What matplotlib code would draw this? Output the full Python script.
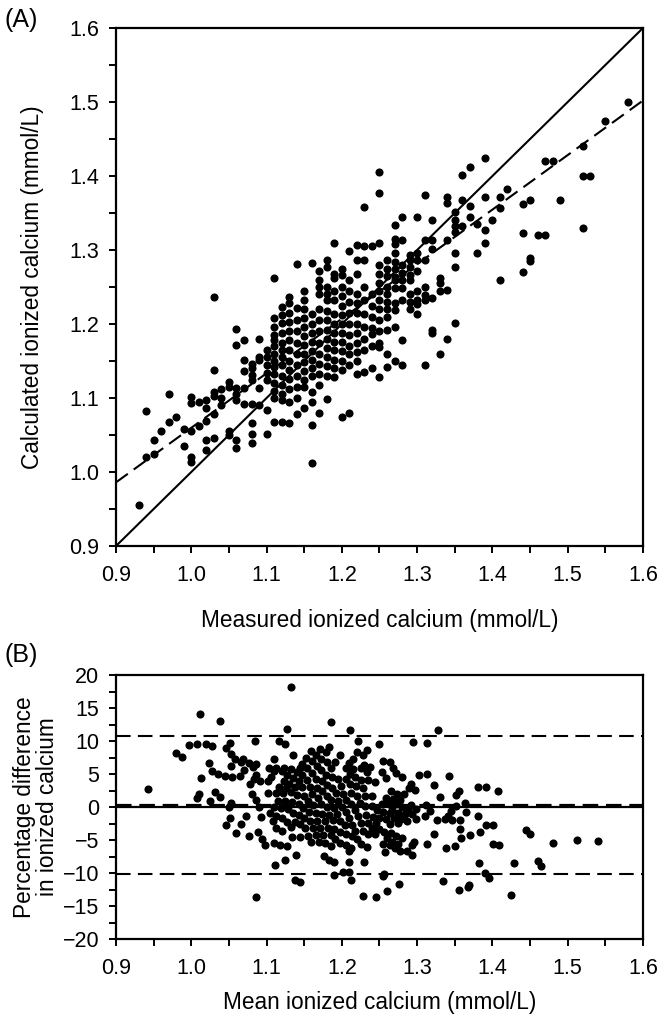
import matplotlib
matplotlib.use("Agg")
import matplotlib.pyplot as plt
from matplotlib.ticker import MultipleLocator
import numpy as np

plt.rcParams['font.family'] = ['Liberation Sans', 'DejaVu Sans']

# Panel A: measured ionized calcium (x, 0.01 steps) -> calculated values (y)
columns = {
    0.93: [0.955],
    0.94: [1.083, 1.020],
    0.95: [1.025, 1.043],
    0.96: [1.056],
    0.97: [1.068, 1.105],
    0.98: [1.075],
    0.99: [1.058, 1.035],
    1.00: [1.102, 1.093, 1.056, 1.020, 1.014],
    1.01: [1.095, 1.062],
    1.02: [1.097, 1.086, 1.069, 1.043, 1.030],
    1.03: [1.236, 1.138, 1.108, 1.103, 1.078, 1.046],
    1.04: [1.112, 1.100, 1.090],
    1.05: [1.121, 1.115, 1.056, 1.050],
    1.06: [1.193, 1.172, 1.113, 1.106, 1.097, 1.043, 1.032],
    1.07: [1.178, 1.151, 1.136, 1.113, 1.092],
    1.08: [1.146, 1.140, 1.131, 1.124, 1.092, 1.066, 1.052, 1.039],
    1.09: [1.180, 1.156, 1.151, 1.113, 1.090],
    1.10: [1.165, 1.155, 1.145, 1.134, 1.124, 1.084, 1.052],
    1.11: [1.262, 1.208, 1.196, 1.185, 1.178, 1.170, 1.160, 1.150, 1.142, 1.133, 1.120, 1.110, 1.100, 1.068],
    1.12: [1.223, 1.212, 1.201, 1.188, 1.175, 1.165, 1.155, 1.145, 1.130, 1.118, 1.105, 1.097, 1.067],
    1.13: [1.237, 1.228, 1.215, 1.203, 1.190, 1.178, 1.165, 1.150, 1.138, 1.126, 1.112, 1.095, 1.066],
    1.14: [1.281, 1.221, 1.205, 1.190, 1.175, 1.160, 1.145, 1.130, 1.115, 1.100, 1.079],
    1.15: [1.244, 1.232, 1.220, 1.208, 1.196, 1.184, 1.172, 1.160, 1.148, 1.136, 1.125, 1.115, 1.086],
    1.16: [1.282, 1.214, 1.200, 1.188, 1.176, 1.164, 1.152, 1.140, 1.130, 1.108, 1.094, 1.063, 1.012],
    1.17: [1.271, 1.259, 1.250, 1.241, 1.220, 1.205, 1.190, 1.175, 1.160, 1.146, 1.133, 1.118, 1.080],
    1.18: [1.286, 1.277, 1.250, 1.241, 1.232, 1.218, 1.205, 1.192, 1.180, 1.168, 1.155, 1.143, 1.130, 1.098],
    1.19: [1.310, 1.268, 1.262, 1.245, 1.232, 1.214, 1.200, 1.188, 1.176, 1.165, 1.152, 1.140, 1.128],
    1.20: [1.275, 1.266, 1.250, 1.238, 1.225, 1.212, 1.200, 1.188, 1.176, 1.163, 1.150, 1.138, 1.075],
    1.21: [1.298, 1.260, 1.245, 1.230, 1.215, 1.200, 1.185, 1.170, 1.160, 1.145, 1.080],
    1.22: [1.307, 1.286, 1.268, 1.241, 1.228, 1.215, 1.200, 1.188, 1.175, 1.162, 1.150, 1.132],
    1.23: [1.358, 1.305, 1.286, 1.250, 1.232, 1.214, 1.196, 1.180, 1.165, 1.135],
    1.24: [1.305, 1.241, 1.225, 1.210, 1.195, 1.187, 1.170, 1.140],
    1.25: [1.405, 1.377, 1.309, 1.280, 1.268, 1.256, 1.244, 1.232, 1.220, 1.205, 1.190, 1.175, 1.169, 1.128],
    1.26: [1.286, 1.275, 1.265, 1.250, 1.240, 1.230, 1.220, 1.210, 1.192, 1.160, 1.142],
    1.27: [1.334, 1.315, 1.308, 1.296, 1.284, 1.275, 1.264, 1.259, 1.248, 1.228, 1.219, 1.196, 1.150],
    1.28: [1.345, 1.313, 1.280, 1.269, 1.259, 1.248, 1.232, 1.178, 1.145],
    1.29: [1.293, 1.286, 1.277, 1.266, 1.259, 1.241, 1.230, 1.220],
    1.30: [1.345, 1.296, 1.286, 1.272, 1.244, 1.232, 1.227, 1.214],
    1.31: [1.374, 1.313, 1.286, 1.250, 1.239, 1.232, 1.145],
    1.32: [1.341, 1.313, 1.302, 1.235, 1.188, 1.192],
    1.33: [1.262, 1.256, 1.244, 1.160],
    1.34: [1.372, 1.364, 1.314, 1.246, 1.180],
    1.35: [1.352, 1.341, 1.332, 1.325, 1.296, 1.277, 1.201],
    1.36: [1.402, 1.368, 1.333],
    1.37: [1.412, 1.359, 1.344],
    1.38: [1.335, 1.296],
    1.39: [1.424, 1.371, 1.327, 1.310],
    1.40: [1.341],
    1.41: [1.372, 1.357, 1.260],
    1.42: [1.382],
    1.44: [1.362, 1.323, 1.270],
    1.45: [1.368, 1.289, 1.285],
    1.46: [1.320],
    1.47: [1.420, 1.320],
    1.48: [1.420],
    1.49: [1.368],
    1.52: [1.440, 1.400, 1.330],
    1.53: [1.400],
    1.55: [1.475],
    1.58: [1.500],
}
measured = [x for x, ys in columns.items() for _ in ys]
calculated = [y for ys in columns.values() for y in ys]

# regression line end points
reg_x = [0.9, 1.6]
reg_y = [0.986, 1.502]

# Panel B reference lines
bias = 0.35
upper_loa = 10.8
lower_loa = -10.1

meas = np.array(measured)
calc = np.array(calculated)
mean_ca = (meas + calc) / 2
pct_diff = (calc - meas) / mean_ca * 100

W, H = 665, 1018
fig = plt.figure(figsize=(W / 100, H / 100), dpi=100)

def px_axes(l, t, r, b):
    return fig.add_axes([l / W, 1 - b / H, (r - l) / W, (b - t) / H])

tick_fs = 15.5
lab_fs = 16.3
dot_s = 34

def style(ax):
    for s in ax.spines.values():
        s.set_linewidth(1.6)
    ax.tick_params(which='both', direction='out', length=5, width=1.4, labelsize=tick_fs, pad=9)
    ax.xaxis.set_major_locator(MultipleLocator(0.1))
    ax.xaxis.set_minor_locator(MultipleLocator(0.05))
    ax.xaxis.set_major_formatter(plt.FuncFormatter(lambda v, p: f"{v:.1f}"))

# Panel A
axA = px_axes(116, 28, 643, 546)
axA.set_xlim(0.9, 1.6)
axA.set_ylim(0.9, 1.6)
style(axA)
axA.tick_params(axis='y', pad=7)
axA.yaxis.set_major_locator(MultipleLocator(0.1))
axA.yaxis.set_minor_locator(MultipleLocator(0.05))
axA.yaxis.set_major_formatter(plt.FuncFormatter(lambda v, p: f"{v:.1f}"))
axA.plot([0.9, 1.6], [0.9, 1.6], color='black', lw=1.5)
axA.plot(reg_x, reg_y, color='black', lw=1.5, dashes=(7, 3.5))
axA.scatter(measured, calculated, s=dot_s, color='black', zorder=3, linewidths=0)
axA.set_xlabel("Measured ionized calcium (mmol/L)", fontsize=lab_fs, labelpad=16)
axA.set_ylabel("Calculated ionized calcium (mmol/L)", fontsize=lab_fs, labelpad=18)
fig.text(5 / W, 1 - 20 / H, "(A)", fontsize=18, va='center', ha='left')

# Panel B
axB = px_axes(116, 675, 643, 939)
axB.set_xlim(0.9, 1.6)
axB.set_ylim(-20, 20)
style(axB)
axB.tick_params(axis='y', pad=7)
axB.yaxis.set_major_locator(MultipleLocator(5))
axB.yaxis.set_minor_locator(MultipleLocator(2.5))
axB.axhline(0, color='black', lw=1.6)
axB.axhline(bias, color='black', lw=1.6, dashes=(7, 3.5))
axB.axhline(upper_loa, color='black', lw=1.5, dashes=(7, 3.5))
axB.axhline(lower_loa, color='black', lw=1.5, dashes=(7, 3.5))
axB.scatter(mean_ca, pct_diff, s=dot_s, color='black', zorder=3, linewidths=0)
axB.set_xlabel("Mean ionized calcium (mmol/L)", fontsize=lab_fs, labelpad=8)
axB.set_ylabel("Percentage difference\nin ionized calcium", fontsize=lab_fs, labelpad=3, linespacing=0.95)
fig.text(5 / W, 1 - 655 / H, "(B)", fontsize=18, va='center', ha='left')

fig.savefig("out.png", dpi=100)
